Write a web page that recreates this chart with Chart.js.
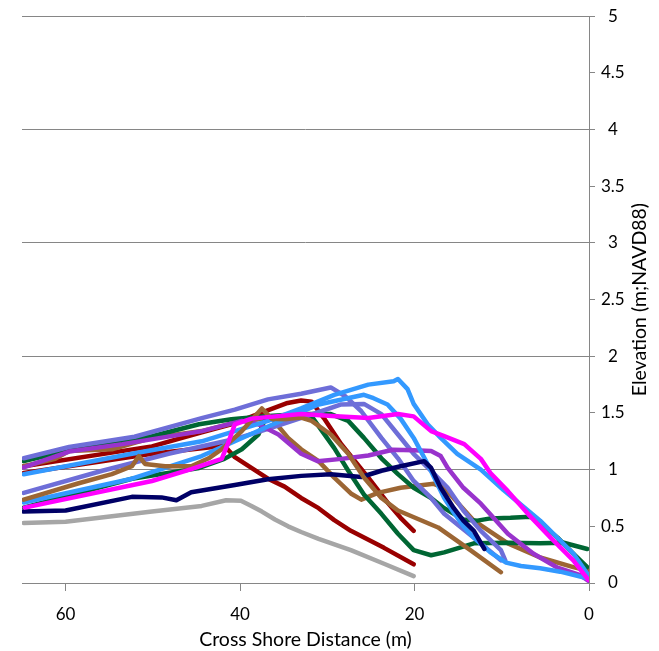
<!DOCTYPE html>
<html>
<head>
<meta charset="utf-8">
<script src="https://cdn.jsdelivr.net/npm/chart.js@4.4.1/dist/chart.umd.min.js"></script>
<style>
  html, body { margin: 0; padding: 0; background: #fff; }
</style>
</head>
<body>
<canvas id="profiles" width="659" height="651"></canvas>
<script>
// Beach profiles, each point is [cross-shore distance (m), elevation (m NAVD88)]
const magenta = [[64.7,0.665],[50.1,0.9],[45.6,1.005],[42.1,1.095],[41.3,1.25],[40.6,1.4],[38.7,1.45],[33,1.49],[29,1.47],[25.3,1.455],[21.9,1.49],[20.1,1.47],[18.1,1.34],[16.6,1.295],[14.3,1.225],[12.4,1.095],[11.3,0.97],[9.3,0.81],[7,0.61],[4.4,0.4],[1.8,0.2],[0.1,0.03]];
const brownB = [[64.8,0.735],[58.5,0.88],[54.7,0.96],[52.4,1.03],[51.6,1.12],[50.9,1.05],[48.6,1.03],[45.6,1.03],[43.6,1.1],[42.1,1.18],[39.8,1.34],[37.5,1.54],[36.4,1.45],[34.9,1.445],[33,1.46],[31.8,1.43],[29.6,1.31],[27.6,1.14],[25.8,0.93],[23.8,0.75],[21.9,0.64],[17.3,0.49],[13.6,0.29],[10.1,0.095]];
const navy = [[64.8,0.63],[60,0.64],[52.4,0.76],[49,0.755],[47.3,0.73],[45.6,0.8],[40.6,0.865],[36.8,0.915],[33,0.945],[29.6,0.96],[26.1,0.935],[23.8,0.99],[21.6,1.03],[18.9,1.075],[18.1,1.015],[17,0.84],[15.5,0.66],[14.4,0.55],[13.2,0.46],[12,0.3]];
const blueA = [[64.8,0.96],[52.4,1.14],[44.4,1.25],[40.6,1.34],[36.8,1.43],[33,1.54],[29.2,1.66],[25.3,1.75],[22.4,1.78],[21.9,1.8],[20.8,1.71],[20.1,1.58],[18.5,1.4],[17,1.28],[15.1,1.14],[12.4,1.0],[9.8,0.82],[7,0.64],[5.6,0.55],[3.3,0.375],[1.8,0.26],[0.1,0.07]];
const blueB = [[64.8,0.71],[52.4,0.92],[44.4,1.12],[40.6,1.25],[36.8,1.38],[31,1.575],[25.8,1.66],[24.7,1.63],[23.1,1.575],[21.6,1.45],[20.1,1.28],[18.5,1.05],[16.6,0.75],[15.5,0.62],[14.4,0.5],[13.2,0.4],[11.3,0.27],[9.5,0.18],[7.8,0.15],[5.6,0.13],[3.3,0.1],[0.1,0.04]];
const purple = [[64.8,1.02],[59.6,1.16],[53.5,1.225],[44.4,1.34],[39.8,1.43],[37.9,1.4],[35.6,1.31],[33,1.14],[31.1,1.075],[28.4,1.095],[25.3,1.125],[22.5,1.175],[20.1,1.17],[18.1,1.165],[17,1.12],[16.2,1.015],[14.4,0.84],[12.4,0.7],[9.3,0.435],[6.4,0.26],[3.6,0.135],[1,0.07],[0.1,0.02]];
const lavenderA = [[64.8,1.1],[59.6,1.2],[52.1,1.29],[44.4,1.455],[40.6,1.53],[36.8,1.62],[33,1.67],[29.6,1.725],[27.9,1.645],[26.1,1.515],[23.8,1.28],[21.9,1.1],[20.1,0.9],[18.1,0.75],[16.6,0.61],[13.2,0.4],[10.1,0.2]];
const lavenderB = [[64.8,0.795],[55.8,0.99],[48.2,1.14],[40.6,1.27],[36.8,1.36],[30.7,1.515],[28.4,1.575],[25.8,1.58],[23.8,1.49],[21.9,1.31],[20.1,1.14],[18.1,0.99],[16.2,0.84],[14.4,0.64],[12.4,0.46],[10.1,0.29],[9.6,0.2]];
const greenA = [[64.8,1.075],[61.2,1.14],[59.6,1.19],[54.7,1.235],[50.1,1.295],[44.7,1.4],[41,1.445],[37.2,1.47],[33,1.49],[29.6,1.49],[27.6,1.43],[25.8,1.28],[23.8,1.1],[21.9,0.96],[20.1,0.84],[18.1,0.75],[16.6,0.66],[14.4,0.56],[12.8,0.55],[11.3,0.57],[9,0.575],[6.7,0.585],[5.6,0.53],[3.6,0.4],[1.8,0.26],[0.2,0.14]];
const greenB = [[64.8,0.665],[52.4,0.92],[44.7,1.015],[41.8,1.095],[39.8,1.18],[37.9,1.31],[37.2,1.43],[35.3,1.47],[33,1.49],[31.8,1.47],[29.2,1.19],[27.6,0.99],[25.8,0.78],[23.8,0.61],[21.9,0.435],[20.1,0.29],[18.1,0.245],[16.6,0.27],[13.2,0.35],[9.3,0.355],[5.6,0.35],[2.9,0.355],[0.2,0.3]];
const brownA = [[64.8,1.03],[61.2,1.095],[59.6,1.165],[54.7,1.18],[50.1,1.28],[44.4,1.34],[39.8,1.43],[36.4,1.455],[34.5,1.28],[33,1.18],[31,1.075],[29.2,0.93],[27.3,0.79],[26.1,0.735],[24.2,0.795],[21.6,0.84],[17.8,0.875],[16.6,0.84],[13.2,0.55],[9.3,0.35],[5.6,0.225],[1.8,0.14],[0.2,0.11]];
const redA = [[64.8,1.03],[50.1,1.205],[44.4,1.33],[41,1.4],[37.6,1.5],[34.7,1.585],[33,1.61],[31.8,1.6],[30.4,1.455],[28.4,1.225],[25.3,0.93],[23,0.7],[21.6,0.575],[20.1,0.46]];
const redB = [[64.8,0.97],[50.1,1.14],[41.8,1.21],[40.6,1.11],[38.7,1.015],[36.8,0.92],[34.9,0.85],[33,0.75],[31,0.66],[29.2,0.555],[27.3,0.46],[23.5,0.31],[20.1,0.165]];
const grey = [[64.8,0.53],[60,0.54],[50.1,0.63],[44.4,0.68],[41.6,0.73],[39.9,0.725],[38.7,0.68],[37.5,0.63],[36,0.56],[34.5,0.5],[33,0.45],[31,0.39],[27.3,0.29],[23.5,0.17],[20.1,0.06]];

const xTicks = [0, 20, 40, 60];
const yTicks = [0, 0.5, 1, 1.5, 2, 2.5, 3, 3.5, 4, 4.5, 5];
const yGridLines = [1, 2, 3, 4, 5];

// first entry is drawn on top
const profiles = [
    { data: magenta, color: '#FF00FF' },
    { data: brownB, color: '#9C6634' },
    { data: navy, color: '#000066' },
    { data: blueA, color: '#3399FF' },
    { data: blueB, color: '#3399FF' },
    { data: purple, color: '#9933CC' },
    { data: lavenderA, color: '#6E6ED8' },
    { data: lavenderB, color: '#6E6ED8' },
    { data: greenA, color: '#006633' },
    { data: greenB, color: '#006633' },
    { data: brownA, color: '#9C6634' },
    { data: redA, color: '#990000' },
    { data: redB, color: '#990000' },
    { data: grey, color: '#A6A6A6' }
];

const axisGrey = '#868686';
const titleFont = '19.5px Lato';

// vertical axis title reads bottom-to-top on the right side
const elevationTitle = {
    id: 'elevationTitle',
    afterDraw(chart) {
        const { ctx, chartArea } = chart;
        ctx.save();
        ctx.font = titleFont;
        ctx.fillStyle = '#000';
        ctx.textAlign = 'center';
        ctx.textBaseline = 'alphabetic';
        ctx.translate(chart.width - 13, (chartArea.top + chartArea.bottom) / 2);
        ctx.rotate(-Math.PI / 2);
        ctx.fillText('Elevation (m;NAVD88)', 0, 0);
        ctx.restore();
    }
};

Chart.defaults.font.family = 'Lato';
Chart.defaults.color = '#000';

new Chart(document.getElementById('profiles'), {
    type: 'scatter',
    data: {
        datasets: profiles.map(p => ({
            data: p.data,
            showLine: true,
            borderColor: p.color,
            backgroundColor: p.color,
            borderWidth: 4.5,
            borderCapStyle: 'round',
            borderJoinStyle: 'round',
            pointRadius: 0,
            pointHoverRadius: 0,
            tension: 0
        }))
    },
    options: {
        responsive: false,
        animation: false,
        events: [],
        layout: { padding: { left: 22, top: 14, right: 0, bottom: 0 } },
        plugins: {
            legend: { display: false },
            tooltip: { enabled: false }
        },
        scales: {
            x: {
                type: 'linear',
                reverse: true,
                min: 0,
                max: 65,
                afterBuildTicks: scale => { scale.ticks = xTicks.map(v => ({ value: v })); },
                afterFit: scale => { scale.height = 68; },
                ticks: { font: { size: 17 }, padding: 13, maxRotation: 0, callback: v => String(v) },
                grid: { drawOnChartArea: false, color: axisGrey, tickLength: 8 },
                border: { color: axisGrey, width: 1 },
                title: {
                    display: true,
                    text: 'Cross Shore Distance (m)',
                    font: { size: 19.5 },
                    padding: { top: 0, bottom: 0 }
                }
            },
            y: {
                type: 'linear',
                position: 'right',
                min: 0,
                max: 5,
                afterBuildTicks: scale => { scale.ticks = yTicks.map(v => ({ value: v })); },
                afterFit: scale => { scale.width = 70; },
                ticks: { font: { size: 17 }, padding: 6, crossAlign: 'center', callback: v => String(v) },
                grid: {
                    color: c => yGridLines.includes(c.tick.value) ? axisGrey : 'rgba(0,0,0,0)',
                    tickColor: axisGrey,
                    tickLength: 6
                },
                border: { color: axisGrey, width: 1 }
            }
        }
    },
    plugins: [elevationTitle]
});
</script>
</body>
</html>
